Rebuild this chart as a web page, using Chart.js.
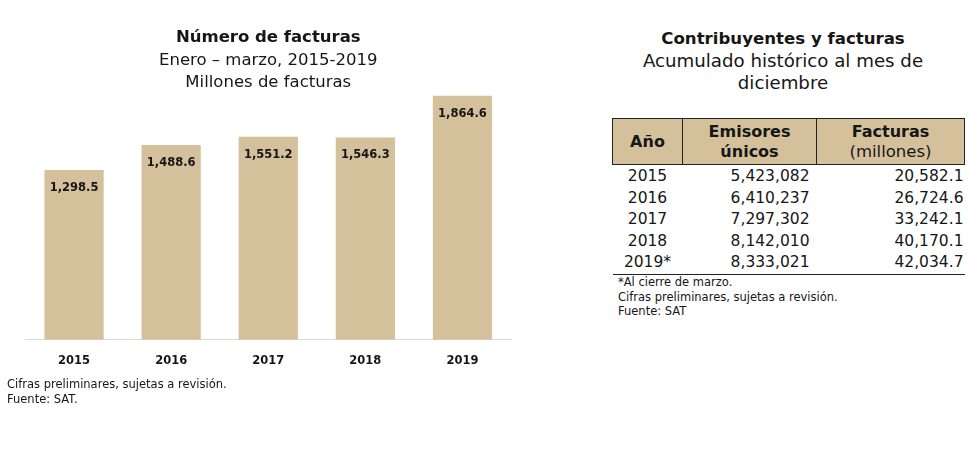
<!DOCTYPE html>
<html lang="es">
<head>
<meta charset="utf-8">
<title>Número de facturas</title>
<script src="https://cdn.jsdelivr.net/npm/chart.js@4.4.1/dist/chart.umd.min.js"></script>
<style>
    body { margin: 0; background: #fff; font-family: "DejaVu Sans", sans-serif; color: #161616; }
    #page { position: relative; width: 977px; height: 451px; overflow: hidden; }
    #chart_box { position: absolute; left: 0; top: 0; width: 536px; height: 383px; }
    .nota { position: absolute; font-size: 11.5px; line-height: 15px; white-space: nowrap; }
    #nota_izq { left: 7px; top: 377px; }
    #titulo_der { position: absolute; left: 600px; width: 366px; top: 27px; text-align: center; }
    #titulo_der b { display: block; font-size: 16.6px; line-height: 23px; }
    #titulo_der span { display: block; font-size: 18.2px; line-height: 22px; }
    #tabla { position: absolute; left: 612px; top: 118px; width: 353px; border-collapse: collapse; }
    #tabla th { background: #d4c19c; border: 1.5px solid #222; font-size: 16px; line-height: 20px; padding: 3px 0 2px; font-weight: bold; }
    #tabla th .sub { font-weight: normal; font-size: 16.5px; }
    #tabla td { font-size: 15.5px; line-height: 21.6px; padding: 0; }
    #tabla tbody tr:first-child td { padding-top: 1px; }
    #tabla td.c { text-align: center; }
    #tabla td.r { text-align: right; padding-right: 7px; }
    #tabla td.f { text-align: right; padding-right: 1px; }
    #tabla tr:last-child td { border-bottom: 1.5px solid #222; }
    #nota_der { left: 618px; top: 275px; line-height: 14.5px; }
</style>
</head>
<body>
<div id="page">
    <div id="chart_box"><canvas id="facturas_chart"></canvas></div>
    <div class="nota" id="nota_izq">Cifras preliminares, sujetas a revisión.<br>Fuente: SAT.</div>

    <div id="titulo_der">
        <b>Contribuyentes y facturas</b>
        <span>Acumulado histórico al mes de</span>
        <span>diciembre</span>
    </div>
    <table id="tabla">
        <thead>
            <tr>
                <th style="width:69px">Año</th>
                <th style="width:133px">Emisores<br>únicos</th>
                <th>Facturas<br><span class="sub">(millones)</span></th>
            </tr>
        </thead>
        <tbody></tbody>
    </table>
    <div class="nota" id="nota_der">*Al cierre de marzo.<br>Cifras preliminares, sujetas a revisión.<br>Fuente: SAT</div>
</div>

<script>
// bar chart data (millones de facturas, enero - marzo)
var arrYears = ['2015', '2016', '2017', '2018', '2019'];
var arrFacturas = [1298.5, 1488.6, 1551.2, 1546.3, 1864.6];

// table data (acumulado historico a diciembre)
var arrTablaYears = ['2015', '2016', '2017', '2018', '2019*'];
var arrEmisores = [5423082, 6410237, 7297302, 8142010, 8333021];
var arrFacturasAcum = [20582.1, 26724.6, 33242.1, 40170.1, 42034.7];

var strFont = '"DejaVu Sans", sans-serif';
var strText = '#161616';
var strTan = '#d4c19c';

function fmt(num, intDec) {
    return num.toLocaleString('en-US', { minimumFractionDigits: intDec, maximumFractionDigits: intDec });
}

// fill table rows
var strRows = '';
arrTablaYears.forEach(function (strYear, i) {
    strRows += '<tr><td class="c">' + strYear + '</td>' +
        '<td class="r">' + fmt(arrEmisores[i], 0) + '</td>' +
        '<td class="f">' + fmt(arrFacturasAcum[i], 1) + '</td></tr>';
});
document.querySelector('#tabla tbody').innerHTML = strRows;

// labels inside the top of each bar
var barLabels = {
    id: 'barLabels',
    afterDatasetsDraw: function (chart) {
        var ctx = chart.ctx;
        ctx.save();
        ctx.font = 'bold 11.5px ' + strFont;
        ctx.fillStyle = strText;
        ctx.textAlign = 'center';
        ctx.textBaseline = 'middle';
        chart.getDatasetMeta(0).data.forEach(function (bar, i) {
            ctx.fillText(fmt(arrFacturas[i], 1), bar.x, bar.y + 18);
        });
        ctx.restore();
    }
};

var ctx = document.getElementById('facturas_chart').getContext('2d');
new Chart(ctx, {
    type: 'bar',
    data: {
        labels: arrYears,
        datasets: [{
            data: arrFacturas,
            backgroundColor: strTan,
            barPercentage: 0.61,
            categoryPercentage: 1.0
        }]
    },
    plugins: [barLabels],
    options: {
        animation: false,
        responsive: true,
        maintainAspectRatio: false,
        layout: {
            padding: { left: 25.5, right: 25, top: 0, bottom: 1.4 }
        },
        plugins: {
            legend: { display: false },
            tooltip: { enabled: false },
            title: {
                display: true,
                text: 'Número de facturas',
                color: strText,
                font: { family: strFont, size: 16.5, weight: 'bold', lineHeight: 1.2 },
                padding: { top: 28, bottom: 0 }
            },
            subtitle: {
                display: true,
                text: ['Enero – marzo, 2015-2019', 'Millones de facturas'],
                color: strText,
                font: { family: strFont, size: 16.5, weight: 'normal', lineHeight: 1.333 },
                padding: { top: 2, bottom: 0 }
            }
        },
        scales: {
            x: {
                grid: { display: false, drawTicks: false },
                border: { display: true, color: '#d9d9d9', width: 1 },
                ticks: {
                    color: strText,
                    padding: 14,
                    font: { family: strFont, size: 11.5, weight: 'bold' }
                }
            },
            y: {
                display: false,
                min: 0,
                max: 1880
            }
        }
    }
});
</script>
</body>
</html>
